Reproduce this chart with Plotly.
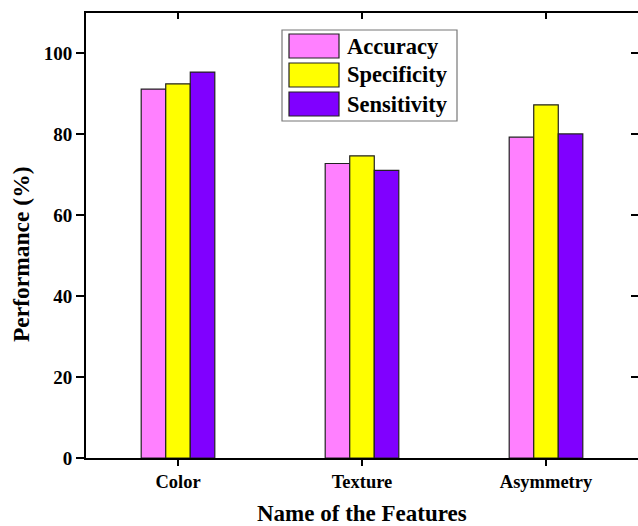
import plotly.graph_objects as go

# Data
features = ["Color", "Texture", "Asymmetry"]
series_names = ["Accuracy", "Specificity", "Sensitivity"]
accuracy = [91.2, 72.8, 79.3]
specificity = [92.5, 74.7, 87.3]
sensitivity = [95.4, 71.1, 80.1]
y_ticks = [0, 20, 40, 60, 80, 100]

colors = ["#FF80FF", "#FFFF00", "#8000FF"]
values = [accuracy, specificity, sensitivity]

FONT = "Liberation Serif"

fig = go.Figure()
for name, vals, col in zip(series_names, values, colors):
    fig.add_trace(go.Bar(
        x=features, y=vals, name=name,
        marker=dict(color=col, line=dict(color="#222222", width=1.2)),
        showlegend=False,
    ))

# Plot-area geometry (pixels) used to place the legend and titles
W, H = 638, 526
ML, MR, MT, MB = 86, 0, 13, 68
pw, ph = W - ML - MR, H - MT - MB


def px(x):
    return (x - ML) / pw


def py(y):
    return (H - MB - y) / ph


shapes = [dict(type="rect", xref="paper", yref="paper",
               x0=px(282), x1=px(457), y0=py(121), y1=py(30),
               line=dict(color="#777777", width=1.2), fillcolor="white", layer="above")]
annotations = []
row_tops = [34, 63, 92]
for name, col, top in zip(series_names, colors, row_tops):
    shapes.append(dict(type="rect", xref="paper", yref="paper",
                       x0=px(289), x1=px(339), y0=py(top + 24), y1=py(top),
                       line=dict(color="#222222", width=1.2), fillcolor=col, layer="above"))
    annotations.append(dict(xref="paper", yref="paper", x=px(345), y=py(top + 12),
                            text=f"<b>{name}</b>", showarrow=False, xanchor="left",
                            yanchor="middle",
                            font=dict(family=FONT, size=22.5, color="black")))

# Axis titles
annotations.append(dict(xref="paper", yref="paper", x=px(362), y=py(513),
                        text="<b>Name of the Features</b>", showarrow=False,
                        xanchor="center", yanchor="middle",
                        font=dict(family=FONT, size=23, color="black")))
annotations.append(dict(xref="paper", yref="paper", x=px(21), y=py(254),
                        text="<b>Performance (%)</b>", showarrow=False, textangle=-90,
                        xanchor="center", yanchor="middle",
                        font=dict(family=FONT, size=23.5, color="black")))

fig.update_layout(
    width=W, height=H,
    margin=dict(l=ML, r=MR, t=MT, b=MB),
    plot_bgcolor="white", paper_bgcolor="white",
    barmode="group", bargap=0.6, bargroupgap=0,
    font=dict(family=FONT, color="black"),
    shapes=shapes, annotations=annotations,
    xaxis=dict(
        range=[-0.5, 2.5],
        showline=True, linecolor="black", linewidth=2,
        ticks="outside", ticklen=6, tickwidth=1.5, tickcolor="black",
        tickfont=dict(family=FONT, size=18.5, color="black"),
        tickvals=features, ticktext=[f"<b>{f}</b>" for f in features],
        showgrid=False, zeroline=False,
    ),
    yaxis=dict(
        range=[0, 110],
        showline=True, linecolor="black", linewidth=2,
        ticks="outside", ticklen=8, tickwidth=1.5, tickcolor="black",
        tickvals=y_ticks, ticktext=[f"<b>{t}</b>" for t in y_ticks],
        tickfont=dict(family=FONT, size=19, color="black"),
        showgrid=False, zeroline=False,
    ),
    xaxis2=dict(
        overlaying="x", side="top", range=[-0.5, 2.5],
        tickvals=[0, 1, 2], showticklabels=False,
        ticks="inside", ticklen=6, tickwidth=1.5, tickcolor="black",
        showline=True, linecolor="black", linewidth=2,
        showgrid=False, zeroline=False,
    ),
    yaxis2=dict(
        overlaying="y", side="right", range=[0, 110],
        tickvals=y_ticks, showticklabels=False,
        ticks="inside", ticklen=7, tickwidth=1.5, tickcolor="black",
        showline=True, linecolor="black", linewidth=2,
        showgrid=False, zeroline=False,
    ),
)

# Empty helper trace so the mirrored frame axes are drawn
fig.add_trace(go.Scatter(x=[None], y=[None], xaxis="x2", yaxis="y2",
                         showlegend=False, hoverinfo="skip"))

fig.write_html("out.html")
